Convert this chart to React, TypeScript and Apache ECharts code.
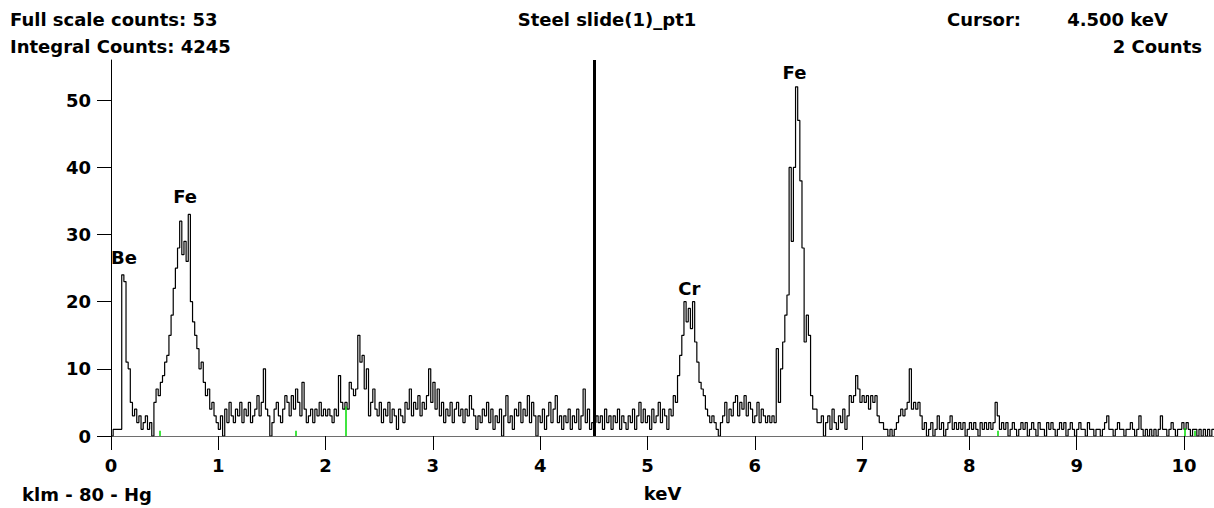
import React, { useEffect, useRef } from "react";
import * as echarts from "echarts";

// Channel width of the spectrum (keV per channel)
const CHANNEL_KEV = 0.02;

// Counts per channel, one array per keV (0.00–0.98, 1.00–1.98, ...)
const counts0 = [0,1,1,1,1,24,23,11,10,5,3,4,2,3,1,2,3,1,2,0,5,7,6,8,9,11,12,15,18,22,25,28,32,27,29,26,33,20,17,15,13,10,11,8,6,7,4,5,3,2];
const counts1 = [1,3,0,4,2,5,3,2,4,3,5,2,4,3,5,2,3,4,6,3,5,10,4,3,0,2,4,5,3,2,4,6,5,3,6,4,7,5,3,8,4,2,3,4,2,4,3,5,3,4];
const counts2 = [3,4,3,2,4,3,9,5,4,5,4,8,7,6,7,15,11,12,7,10,3,5,7,4,3,5,2,4,3,5,2,4,3,1,4,3,2,5,4,7,3,5,4,6,3,5,4,6,10,5];
const counts3 = [8,4,7,3,5,2,4,3,5,2,4,5,3,4,2,4,3,6,4,3,1,3,2,4,3,5,2,4,1,3,2,4,0,3,6,2,3,1,4,3,5,2,4,3,6,2,5,3,0,3];
const counts4 = [2,4,1,3,5,2,4,6,2,3,1,3,2,4,1,3,2,4,1,3,7,2,4,1,2,2,3,2,3,1,4,2,3,1,3,2,4,1,3,2,1,3,2,4,1,3,5,2,4,2];
const counts5 = [3,1,4,2,3,5,2,4,3,1,4,3,6,5,9,12,15,20,17,19,16,20,14,11,8,7,6,4,3,2,3,2,1,0,2,3,5,2,4,3,5,6,3,5,4,6,3,5,4,2];
const counts6 = [3,5,2,4,3,2,3,2,3,2,13,5,10,14,18,21,40,29,40,52,47,38,28,14,18,15,6,4,4,2,2,3,0,2,3,1,4,2,1,3,2,4,1,3,6,5,6,9,7,5];
const counts7 = [6,5,6,4,6,5,6,3,2,2,1,1,0,1,0,1,2,3,4,3,4,5,10,4,5,4,5,3,1,2,0,1,2,0,1,3,1,2,0,1,2,3,1,2,1,2,1,2,0,1];
const counts8 = [2,1,2,1,0,2,1,2,1,2,1,2,5,3,1,2,1,2,0,1,2,1,0,1,2,1,2,0,1,2,1,0,2,1,1,0,2,1,2,1,0,1,2,1,2,0,1,2,1,0];
const counts9 = [1,2,1,1,0,2,1,1,0,1,1,0,1,2,3,1,1,0,1,2,1,1,0,1,1,2,1,0,1,3,1,0,1,0,1,0,1,0,1,3,1,1,0,1,2,1,0,1,1,2];
const counts10 = [1,2,1,0,1,1,0,1,0,1,0,1,0,1,1];

// Axis tick values
const xTicks = [0, 1, 2, 3, 4, 5, 6, 7, 8, 9, 10];
const yTicks = [0, 10, 20, 30, 40, 50];
const X_MAX = 10.28;
const Y_MAX = 56;

// Peak identification labels (keV, counts at the label's baseline)
const peakNames = ["Be", "Fe", "Cr", "Fe"];
const peakKeV = [0.12, 0.69, 5.39, 6.37];
const peakLabelCounts = [25.05, 34.25, 20.45, 52.65];

// KLM markers (Hg) — energy and marker height in counts
const markerKeV = [0.45, 1.72, 2.19, 8.26, 10.01, 10.1];
const markerHeight = [0.8, 0.8, 4.4, 0.8, 1.2, 0.8];

// Cursor
const cursorKeV = 4.5;

const FONT = '"DejaVu Sans", Verdana, sans-serif';

export default function App() {
  const ref = useRef<HTMLDivElement>(null);

  useEffect(() => {
    if (!ref.current) return;
    const chart = echarts.init(ref.current, null, { renderer: "svg" });

    const counts = [
      ...counts0, ...counts1, ...counts2, ...counts3, ...counts4, ...counts5,
      ...counts6, ...counts7, ...counts8, ...counts9, ...counts10,
    ];
    const spectrum = counts.map((c, i) => [Number((i * CHANNEL_KEV).toFixed(2)), c]);

    const textBase = { fontFamily: FONT, fontWeight: "bold" as const, fontSize: 18, color: "#000" };

    const markerLines = markerKeV.map((e, i) => [
      { coord: [e, 0], lineStyle: { color: "#00dd00", width: 1.5, type: "solid" } },
      { coord: [e, markerHeight[i]] },
    ]);

    const mkText = (text: string, x: number, y: number, align: string) => ({
      type: "text",
      x,
      y,
      silent: true,
      style: {
        text,
        fill: "#000",
        font: `bold 18px ${FONT}`,
        align,
        verticalAlign: "middle",
        textAlign: align,
        textVerticalAlign: "middle",
      },
    });

    chart.setOption({
      animation: false,
      backgroundColor: "#fff",
      grid: { left: 111, right: 0, top: 60, bottom: 72, containLabel: false },
      xAxis: [
        {
          type: "value",
          min: 0,
          max: X_MAX,
          name: "keV",
          nameLocation: "middle",
          nameGap: 48,
          nameTextStyle: { ...textBase },
          axisLine: { show: true, onZero: false, lineStyle: { color: "#000", width: 1 } },
          axisTick: { show: true, length: 14, customValues: xTicks, lineStyle: { color: "#000", width: 1 } },
          axisLabel: { show: true, margin: 20, customValues: xTicks, ...textBase },
          splitLine: { show: false },
        },
        {
          type: "value",
          position: "top",
          min: 0,
          max: X_MAX,
          axisLine: { show: true, lineStyle: { color: "#6e6e6e", width: 1 } },
          axisTick: { show: false },
          axisLabel: { show: false },
          splitLine: { show: false },
        },
      ],
      yAxis: {
        type: "value",
        min: 0,
        max: Y_MAX,
        axisLine: { show: true, onZero: false, lineStyle: { color: "#000", width: 1 } },
        axisTick: { show: true, length: 14, customValues: yTicks, lineStyle: { color: "#000", width: 1 } },
        axisLabel: { show: true, margin: 20, customValues: yTicks, ...textBase },
        splitLine: { show: false },
      },
      series: [
        {
          type: "line",
          step: "end",
          data: spectrum,
          showSymbol: false,
          symbol: "none",
          silent: true,
          lineStyle: { color: "#000", width: 1.2 },
          markLine: {
            silent: true,
            symbol: ["none", "none"],
            label: { show: false },
            emphasis: { disabled: true },
            data: [
              { xAxis: cursorKeV, lineStyle: { color: "#000", width: 3, type: "solid" } },
              ...markerLines,
            ],
          },
        },
        {
          type: "scatter",
          silent: true,
          symbolSize: 2,
          itemStyle: { color: "rgba(255,255,255,0)" },
          data: peakNames.map((n, i) => ({ name: n, value: [peakKeV[i], peakLabelCounts[i]] })),
          label: {
            show: true,
            position: "top",
            distance: 0,
            formatter: "{b}",
            textBorderWidth: 0,
            opacity: 1,
            ...textBase,
          },
          z: 5,
        },
      ],
      graphic: [
        mkText("Full scale counts: 53", 10, 19.5, "left"),
        mkText("Integral Counts: 4245", 10, 46, "left"),
        mkText("Steel slide(1)_pt1", 607, 19.5, "center"),
        mkText("Cursor:", 947, 19.5, "left"),
        mkText("4.500 keV", 1168, 19.5, "right"),
        mkText("2 Counts", 1202, 46, "right"),
        mkText("klm - 80 - Hg", 22, 494, "left"),
      ],
    });

    return () => chart.dispose();
  }, []);

  return (
    <div
      ref={ref}
      style={{ position: "fixed", left: 0, top: 0, width: 1214, height: 508, background: "#fff" }}
    />
  );
}
